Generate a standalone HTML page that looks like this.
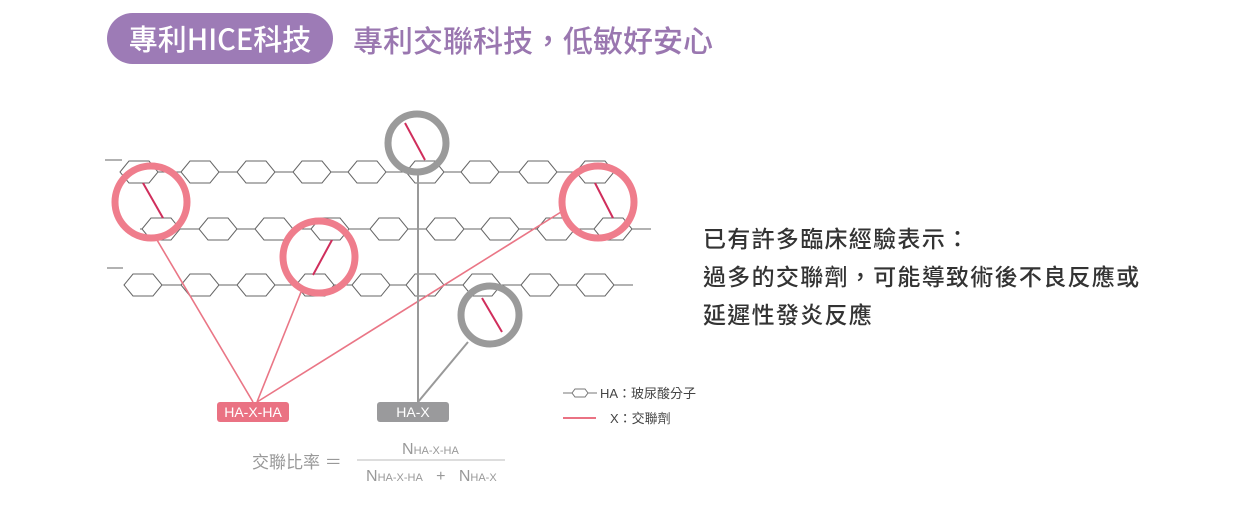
<!DOCTYPE html>
<html><head><meta charset="utf-8"><style>
body{margin:0;background:#fff;width:1238px;height:510px;overflow:hidden;position:relative;font-family:"Liberation Sans","Noto Sans CJK TC",sans-serif}
.pill{position:absolute;left:107px;top:13px;width:226px;height:51px;border-radius:26px;background:#9d7bb6;color:#fff;font-size:29px;line-height:51px;text-align:center;font-family:"Noto Sans CJK TC",sans-serif;font-weight:500}
.head{position:absolute;left:353px;top:19px;color:#9a77b0;font-size:30px;line-height:40px;font-family:"Noto Sans CJK TC",sans-serif;font-weight:500;white-space:nowrap}
.rt{position:absolute;left:703px;top:218px;color:#333;font-size:23px;line-height:38px;letter-spacing:1.3px;font-family:"Noto Sans CJK TC",sans-serif;font-weight:500;white-space:nowrap}
</style></head><body>
<div class="pill">專利HICE科技</div>
<div class="head">專利交聯科技，低敏好安心</div>
<div class="rt">已有許多臨床經驗表示：<br>過多的交聯劑，可能導致術後不良反應或<br>延遲性發炎反應</div>
<svg width="1238" height="510" style="position:absolute;left:0;top:0">
<defs><polygon id="h" points="-19,0 -10,-11 10,-11 19,0 10,11 -10,11" fill="#fff" stroke="#666" stroke-width="1"/></defs>
<g stroke="#666" stroke-width="1">
<line x1="105" y1="160" x2="122" y2="160"/>
<line x1="120" y1="172" x2="610" y2="172"/>
<line x1="140" y1="229" x2="651" y2="229"/>
<line x1="107" y1="268" x2="123" y2="268"/>
<line x1="124" y1="285" x2="633" y2="285"/>
</g>
<g>
<use href="#h" x="139" y="172"/><use href="#h" x="200" y="172"/><use href="#h" x="256" y="172"/><use href="#h" x="312" y="172"/><use href="#h" x="367" y="172"/><use href="#h" x="425" y="172"/><use href="#h" x="480" y="172"/><use href="#h" x="538" y="172"/><use href="#h" x="595" y="172"/>
<use href="#h" x="161" y="229"/><use href="#h" x="218" y="229"/><use href="#h" x="274" y="229"/><use href="#h" x="330" y="229"/><use href="#h" x="389" y="229"/><use href="#h" x="445" y="229"/><use href="#h" x="500" y="229"/><use href="#h" x="556" y="229"/><use href="#h" x="613" y="229"/>
<use href="#h" x="143" y="285"/><use href="#h" x="200" y="285"/><use href="#h" x="256" y="285"/><use href="#h" x="315" y="285"/><use href="#h" x="371" y="285"/><use href="#h" x="425" y="285"/><use href="#h" x="482" y="285"/><use href="#h" x="540" y="285"/><use href="#h" x="595" y="285"/>
</g>
<g stroke="#ea7686" stroke-width="1.6" fill="none">
<line x1="157" y1="240" x2="253" y2="402"/>
<line x1="301" y1="292" x2="257" y2="402"/>
<line x1="561" y1="212" x2="257" y2="402"/>
</g>
<g stroke="#999" stroke-width="2" fill="none">
<line x1="418" y1="175" x2="418" y2="402"/>
<line x1="468" y1="342" x2="418" y2="402"/>
</g>
<g stroke="#d02e5c" stroke-width="2">
<line x1="143" y1="183" x2="163" y2="218"/>
<line x1="332" y1="240" x2="313" y2="275"/>
<line x1="595" y1="183" x2="613" y2="218"/>
<line x1="405" y1="123" x2="425" y2="160"/>
<line x1="482" y1="298" x2="502" y2="332"/>
</g>
<g fill="none" stroke-width="7">
<circle cx="151" cy="202" r="36" stroke="#ef7d8c"/>
<circle cx="319" cy="257" r="36" stroke="#ef7d8c"/>
<circle cx="598" cy="202" r="36" stroke="#ef7d8c"/>
<circle cx="417" cy="143" r="29" stroke="#9a9a9a"/>
<circle cx="490" cy="315" r="29" stroke="#9a9a9a"/>
</g>
<rect x="217" y="402" width="72" height="20" rx="3" fill="#ea7283"/>
<text x="253" y="417" fill="#fff" font-size="14" text-anchor="middle">HA-X-HA</text>
<rect x="377" y="402" width="72" height="20" rx="3" fill="#9a9a9c"/>
<text x="413" y="417" fill="#fff" font-size="14" text-anchor="middle">HA-X</text>
<line x1="563" y1="393" x2="597" y2="393" stroke="#777"/>
<polygon points="572,393 575,389 585,389 588,393 585,397 575,397" fill="#fff" stroke="#777"/>
<text x="600" y="398" font-size="13" fill="#444">HA：玻尿酸分子</text>
<line x1="563" y1="418" x2="596" y2="418" stroke="#ea7283" stroke-width="2"/>
<text x="610" y="423" font-size="13" fill="#444">X：交聯劑</text>
<text x="252" y="468" font-size="17" fill="#999">交聯比率 ＝</text>
<line x1="357" y1="460" x2="505" y2="460" stroke="#bbb"/>
<text x="402" y="454" font-size="16" fill="#999">N<tspan font-size="11">HA-X-HA</tspan></text>
<text x="366" y="481" font-size="16" fill="#999" xml:space="preserve">N<tspan font-size="11">HA-X-HA</tspan>   +   N<tspan font-size="11">HA-X</tspan></text>
</svg>
</body></html>
